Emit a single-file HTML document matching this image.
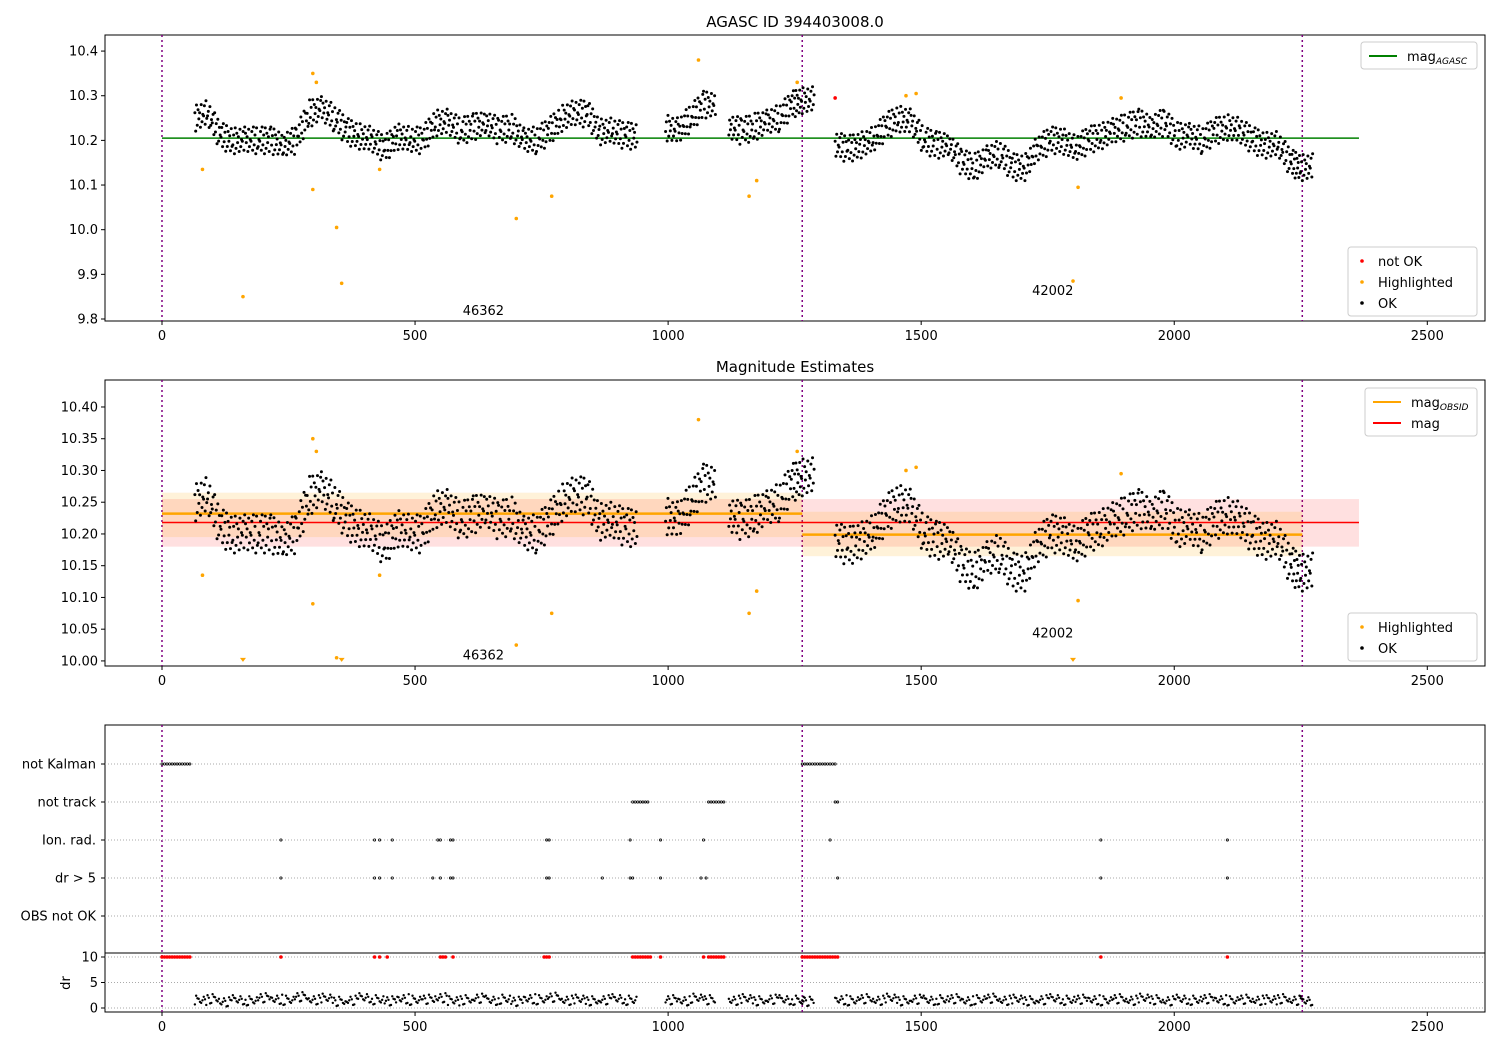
<!DOCTYPE html>
<html><head><meta charset="utf-8"><style>
body{margin:0;background:#fff;}
svg{font-family:"DejaVu Sans","Liberation Sans",sans-serif;}
</style></head><body>
<svg id="c" width="1500" height="1050" xmlns="http://www.w3.org/2000/svg"></svg>
<script>
const segX = [65,90,115,140,165,190,215,240,265,290,315,340,365,390,415,440,465,490,515,540,565,590,615,640,665,690,715,740,765,790,815,840,865,890,915,995,1020,1045,1070,1120,1145,1170,1195,1220,1245,1265,
1330,1355,1380,1405,1430,1455,1480,1505,1530,1555,1580,1605,1630,1655,1680,1705,1730,1755,1780,1805,1830,1855,1880,1905,1930,1955,1980,2005,2030,2055,2080,2105,2130,2155,2180,2205,2230,2250];
const magMean = [10.25,10.26,10.21,10.2,10.2,10.2,10.2,10.19,10.2,10.26,10.27,10.25,10.22,10.21,10.2,10.18,10.21,10.2,10.2,10.24,10.24,10.22,10.23,10.24,10.22,10.23,10.2,10.2,10.22,10.25,10.26,10.26,10.22,10.22,10.21,10.23,10.22,10.25,10.28,10.23,10.22,10.23,10.24,10.25,10.28,10.29,
10.19,10.18,10.19,10.2,10.23,10.25,10.24,10.2,10.19,10.19,10.15,10.14,10.16,10.17,10.14,10.14,10.18,10.2,10.2,10.18,10.2,10.21,10.22,10.23,10.24,10.23,10.24,10.21,10.21,10.2,10.22,10.23,10.22,10.2,10.19,10.19,10.15,10.14];
const drMean = [1.5,1.8,1.2,1.6,1.4,2.0,1.7,1.5,2.2,1.6,1.9,1.3,1.5,2.0,1.6,1.4,1.8,1.5,1.7,2.0,1.4,1.6,1.9,1.5,1.7,1.3,1.8,1.6,2.1,1.5,1.7,1.4,1.6,1.8,1.5,1.6,1.4,1.9,1.6,1.5,1.8,1.4,1.7,1.6,1.5,1.3,
1.6,1.4,1.8,1.5,1.9,1.4,1.7,1.5,1.6,1.8,1.4,1.6,1.9,1.5,1.7,1.4,1.6,1.8,1.5,1.7,1.6,1.4,1.8,1.5,1.9,1.6,1.4,1.7,1.5,1.8,1.6,1.4,1.7,1.5,1.6,1.8,1.5,1.4];
const hlX = [80,160,298,305,298,345,355,430,700,770,1060,1160,1175,1255,1470,1490,1810,1800,1895];
const hlY = [10.135,9.85,10.35,10.33,10.09,10.005,9.88,10.135,10.025,10.075,10.38,10.075,10.11,10.33,10.3,10.305,10.095,9.885,10.295];
const badX = [1330], badY = [10.295];
const flagCats = ["not Kalman","not track","Ion. rad.","dr > 5","OBS not OK"];
const kalmanX = [0,5,10,15,20,25,30,35,40,45,50,55,1265,1270,1275,1280,1285,1290,1295,1300,1305,1310,1315,1320,1325,1330];
const trackX = [930,935,940,945,950,955,960,1080,1085,1090,1095,1100,1105,1110,1330,1335];
const ionX = [235,420,430,455,545,550,570,575,760,765,925,985,1070,1320,1855,2105];
const dr5X = [235,420,430,455,535,550,570,575,760,765,870,925,930,985,1065,1075,1335,1855,2105];
const redDrX = [0,5,10,15,20,25,30,35,40,45,50,55,235,420,430,445,550,555,560,575,755,760,765,930,935,940,945,950,955,960,965,985,1070,1080,1085,1090,1095,1100,1105,1110,1265,1270,1275,1280,1285,1290,1295,1300,1305,1310,1315,1320,1325,1330,1335,1855,2105];
const xTicks = [0,500,1000,1500,2000,2500];
const y1Ticks = [9.8,9.9,10.0,10.1,10.2,10.3,10.4];
const y2Ticks = [10.0,10.05,10.10,10.15,10.20,10.25,10.30,10.35,10.40];
const obsBounds = [0,1265,2253];
const obsIds = ["46362","42002"];
const agascMag = 10.205, magAll = 10.218, magLo = 10.18, magHi = 10.255;
const obsMag = [10.232,10.199], obsLo=[10.195,10.165], obsHi=[10.265,10.235];

const svg=document.getElementById('c');
const NS='http://www.w3.org/2000/svg';
function el(t,a,p){const e=document.createElementNS(NS,t);for(const k in a)e.setAttribute(k,a[k]);(p||svg).appendChild(e);return e;}
const L=105,R=1485;
const X=v=>L+(v+112.6)/(2726.6)*(R-L);
function yf(top,bot,vt,vb){return v=>top+(vt-v)/(vt-vb)*(bot-top);}
const Y1=yf(35,321,10.436,9.7955), Y2=yf(380,666,10.4425,9.992);
const offs=[0.012,-0.025,0.03,-0.005,0.02,-0.018,0.002,-0.03,0.025,-0.01,0.008,-0.022,0.016,-0.002,0.028,-0.014];

function panel(top,bot,Y,ticks,fmt,name){
  const g=el('g',{});
  el('rect',{x:L,y:top,width:R-L,height:bot-top,fill:'none',stroke:'#000','stroke-width':1},g);
  xTicks.forEach(t=>{const x=X(t);el('line',{x1:x,x2:x,y1:bot,y2:bot+4,stroke:'#000'},g);
    const tx=el('text',{x:x,y:bot+19,'font-size':13,'text-anchor':'middle'},g);tx.textContent=t;
    });
  if(ticks)ticks.forEach(t=>{const y=Y(t);el('line',{x1:L-4,x2:L,y1:y,y2:y,stroke:'#000'},g);
    const tx=el('text',{x:L-7,y:y+4.5,'font-size':13,'text-anchor':'end'},g);tx.textContent=t.toFixed(fmt);
    });
  obsBounds.forEach(b=>el('line',{x1:X(b),x2:X(b),y1:top,y2:bot,stroke:'purple','stroke-width':1.5,'stroke-dasharray':'2,3'},g));
  return g;
}
function cloud(g,Y,lo){
  for(let i=0;i<segX.length;i++){
    const nxt=(i+1<segX.length && segX[i+1]-segX[i]<=30)?segX[i+1]:segX[i]+25;
    for(let k=0;k<16;k++){
      const xv=segX[i]+(nxt-segX[i])*k/16;
      const yv=magMean[i]+(i+1<segX.length&&segX[i+1]-segX[i]<=30?(magMean[i+1]-magMean[i])*k/16:0)+offs[(k*7+i*3)%16];
      const c=el('circle',{cx:X(xv),cy:Y(yv),r:1.5,fill:'#000'},g);
      
    }
  }
  hlX.forEach((x,i)=>{
    if(hlY[i]<lo){const px=X(x),py=Y(lo)-1;const t=el('path',{d:`M${px-3},${py-4}L${px+3},${py-4}L${px},${py}Z`,fill:'orange'},g);
      }
    else{const c=el('circle',{cx:X(x),cy:Y(hlY[i]),r:1.8,fill:'orange'},g);
      }
  });
}
function legend(x,y,w,rows,name){
  const g=el('g',{});
  el('rect',{x:x,y:y,width:w,height:rows.length*21+6,rx:3,fill:'#fff',stroke:'#ccc'},g);
  rows.forEach((r,i)=>{const cy=y+14+i*21;
    if(r[2]==='line')el('line',{x1:x+8,x2:x+36,y1:cy,y2:cy,stroke:r[1],'stroke-width':2},g);
    else el('circle',{cx:x+14,cy:cy,r:1.8,fill:r[1]},g);
    const t=el('text',{x:r[2]==='line'?x+46:x+30,y:cy+5,'font-size':13},g);t.innerHTML=r[0];});
}
function title(t,y,n){const e=el('text',{x:795,y:y,'font-size':15,'text-anchor':'middle'});e.textContent=t;}

// Panel 1
title('AGASC ID 394403008.0',27,'chart-title');
const p1=panel(35,321,Y1,y1Ticks,1,'agasc-panel');
el('line',{x1:X(0),x2:X(2365),y1:Y1(agascMag),y2:Y1(agascMag),stroke:'green','stroke-width':1.5},p1);
cloud(p1,Y1,9.79);
badX.forEach((x,i)=>el('circle',{cx:X(x),cy:Y1(badY[i]),r:1.8,fill:'red'},p1));
[[635,9.82],[1760,9.865]].forEach((p,i)=>{const t=el('text',{x:X(p[0]),y:Y1(p[1])+5,'font-size':13,'text-anchor':'middle'},p1);t.textContent=obsIds[i];});
legend(1361,42,116,[['mag<tspan font-size="9" font-style="italic" dy="3">AGASC</tspan>','green','line']],'legend-agasc');
legend(1348,247,129,[['not OK','red'],['Highlighted','orange'],['OK','#000']],'legend-points');

// Panel 2
title('Magnitude Estimates',372,'panel2-title');
const p2=panel(380,666,Y2,y2Ticks,2,'estimates-panel');
el('rect',{x:X(0),y:Y2(magHi),width:X(2365)-X(0),height:Y2(magLo)-Y2(magHi),fill:'red','fill-opacity':0.12},p2);
for(let s=0;s<2;s++){
  el('rect',{x:X(obsBounds[s]),y:Y2(obsHi[s]),width:X(obsBounds[s+1])-X(obsBounds[s]),height:Y2(obsLo[s])-Y2(obsHi[s]),fill:'orange','fill-opacity':0.15},p2);
}
el('line',{x1:X(0),x2:X(2365),y1:Y2(magAll),y2:Y2(magAll),stroke:'red','stroke-width':1.5},p2);
for(let s=0;s<2;s++)el('line',{x1:X(obsBounds[s]),x2:X(obsBounds[s+1]),y1:Y2(obsMag[s]),y2:Y2(obsMag[s]),stroke:'orange','stroke-width':2.5},p2);
cloud(p2,Y2,9.997);
[[635,10.01],[1760,10.045]].forEach((p,i)=>{const t=el('text',{x:X(p[0]),y:Y2(p[1])+5,'font-size':13,'text-anchor':'middle'},p2);t.textContent=obsIds[i];});
legend(1365,388,112,[['mag<tspan font-size="9" font-style="italic" dy="3">OBSID</tspan>','orange','line'],['mag','red','line']],'legend-mags');
legend(1348,613,129,[['Highlighted','orange'],['OK','#000']],'legend-points-2');

// Panel 3
const p3=panel(725,1012,null,null,0,'flags-panel');
const catY=[764,802,840,878,916];
flagCats.forEach((c,i)=>{el('line',{x1:L,x2:R,y1:catY[i],y2:catY[i],stroke:'#aaa','stroke-dasharray':'1,2'},p3);
  el('line',{x1:L-4,x2:L,y1:catY[i],y2:catY[i],stroke:'#000'},p3);
  const t=el('text',{x:L-9,y:catY[i]+4.5,'font-size':13,'text-anchor':'end'},p3);t.textContent=c;});
[[kalmanX,0],[trackX,1],[ionX,2],[dr5X,3]].forEach(([arr,ci])=>arr.forEach(x=>{
  const c=el('circle',{cx:X(x),cy:catY[ci],r:1.1,fill:'none',stroke:'#000','stroke-width':0.8},p3);
  }));
el('line',{x1:L,x2:R,y1:953,y2:953,stroke:'#000'},p3);
const YD=v=>1008-v*5.1;
[0,5,10].forEach(t=>{el('line',{x1:L,x2:R,y1:YD(t),y2:YD(t),stroke:'#aaa','stroke-dasharray':'1,2'},p3);
  el('line',{x1:L-4,x2:L,y1:YD(t),y2:YD(t),stroke:'#000'},p3);
  const tx=el('text',{x:L-7,y:YD(t)+4.5,'font-size':13,'text-anchor':'end'},p3);tx.textContent=t;});
const dl=el('text',{x:70,y:983,'font-size':13,'text-anchor':'middle',transform:'rotate(-90 70 983)'},p3);dl.textContent='dr';
const dOff=[-0.8,0.7,-0.3,0.9,0.2,-0.5,0.4,-0.9,0,0.3];
for(let i=0;i<segX.length;i++){
  for(let k=0;k<10;k++){
    const xv=segX[i]+2.5*k;
    const c=el('circle',{cx:X(xv),cy:YD(drMean[i]+dOff[(k*3+i)%10]),r:1.2,fill:'#000'},p3);
    
  }
}
redDrX.forEach(x=>{const c=el('circle',{cx:X(x),cy:YD(10),r:1.8,fill:'red'},p3);
  });
</script>
</body></html>
